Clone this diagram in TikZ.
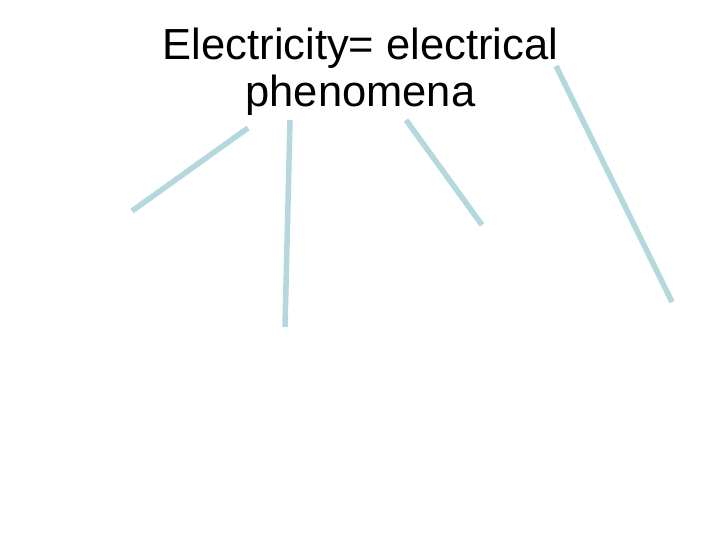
\documentclass[tikz,border=0pt]{standalone}
\usepackage{fontspec}
\setmainfont{Liberation Sans}
\definecolor{branchblue}{HTML}{B4D8DC}

\begin{document}
\begin{tikzpicture}[x=1pt, y=-1pt, branch/.style={draw=branchblue, line width=5.5pt}]
      \useasboundingbox[fill=white] (0,0) rectangle (720,540);

\node [anchor=north, align=center, inner sep=0pt, font=\fontsize{43.5}{47}\selectfont] (title) at (360.5,28) {Electricity= electrical\\phenomena};

\coordinate (a1) at (248,128); \coordinate (a2) at (132,211);
\coordinate (b1) at (290,120); \coordinate (b2) at (285,327);
\coordinate (c1) at (406,120); \coordinate (c2) at (482,225);
\coordinate (d1) at (556,66);  \coordinate (d2) at (672,302);

\draw [branch] (a1) -- (a2);
\draw [branch] (b1) -- (b2);
\draw [branch] (c1) -- (c2);
\draw [branch] (d1) -- (d2);

    \end{tikzpicture}
\end{document}
